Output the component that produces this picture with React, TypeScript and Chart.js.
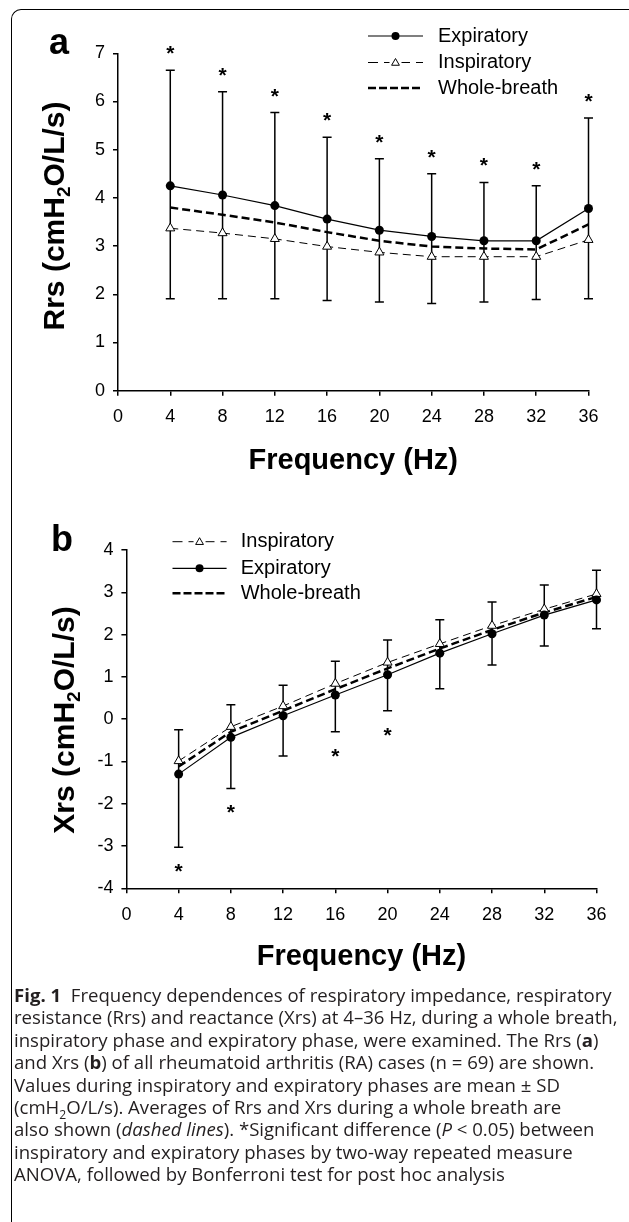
import React, { useEffect, useRef } from "react";
import { Chart, registerables } from "chart.js";

Chart.register(...registerables);

// ---------------- data ----------------
const frequencies = [4, 8, 12, 16, 20, 24, 28, 32, 36];
const xTickValues = [0, 4, 8, 12, 16, 20, 24, 28, 32, 36];

// Panel a – Rrs (cmH2O/L/s)
const rrsTicks = [0, 1, 2, 3, 4, 5, 6, 7];
const rrsExpMean = [4.25, 4.06, 3.84, 3.56, 3.33, 3.2, 3.11, 3.11, 3.78];
const rrsExpSD = [2.4, 2.14, 1.93, 1.7, 1.48, 1.3, 1.21, 1.14, 1.88];
const rrsInspMean = [3.37, 3.27, 3.15, 2.99, 2.87, 2.78, 2.78, 2.78, 3.13];
const rrsInspSD = [1.46, 1.36, 1.24, 1.12, 1.03, 0.97, 0.94, 0.89, 1.22];
const rrsWholeMean = [3.8, 3.65, 3.49, 3.29, 3.11, 2.99, 2.95, 2.93, 3.45];
const rrsSignificant = [true, true, true, true, true, true, true, true, true];

// Panel b – Xrs (cmH2O/L/s)
const xrsTicks = [-4, -3, -2, -1, 0, 1, 2, 3, 4];
const xrsExpMean = [-1.3, -0.43, 0.08, 0.57, 1.05, 1.56, 2.02, 2.46, 2.82];
const xrsExpSD = [1.73, 1.21, 0.95, 0.87, 0.85, 0.84, 0.74, 0.73, 0.68];
const xrsInspMean = [-0.99, -0.18, 0.31, 0.84, 1.34, 1.78, 2.21, 2.6, 2.96];
const xrsInspSD = [0.74, 0.52, 0.49, 0.53, 0.53, 0.57, 0.56, 0.57, 0.56];
const xrsWholeMean = [-1.12, -0.3, 0.2, 0.71, 1.2, 1.67, 2.11, 2.52, 2.89];
const xrsSignificant = [true, true, false, true, true, false, false, false, false];

const legendLabelsA = ["Expiratory", "Inspiratory", "Whole-breath"];
const legendLabelsB = ["Inspiratory", "Expiratory", "Whole-breath"];
const xAxisTitle = "Frequency (Hz)";

// ---------------- styling ----------------
const FONT = '"Liberation Sans", Arial, Helvetica, sans-serif';
const W = 629;

type Kind = "exp" | "insp" | "whole";

interface PanelSpec {
  letter: string;
  canvasTop: number;
  canvasH: number;
  plotLeft: number;
  plotRight: number;
  plotTop: number;
  plotBottom: number;
  yMin: number;
  yMax: number;
  yTicks: number[];
  expMean: number[];
  expSD: number[];
  inspMean: number[];
  inspSD: number[];
  wholeMean: number[];
  significant: boolean[];
  asteriskSide: "above" | "below";
  yTitle: [string, string, string];
  yTitleBaselineX: number;
  yTitleCenterY: number;
  xTitleBaseline: number;
  letterX: number;
  letterBaseline: number;
  legendLabels: string[];
  legendKinds: Kind[];
  legendYs: number[];
  legendX1: number;
  legendX2: number;
  legendTextX: number;
}

const panelA: PanelSpec = {
  letter: "a",
  canvasTop: 0,
  canvasH: 490,
  plotLeft: 118,
  plotRight: 588.5,
  plotTop: 53.3,
  plotBottom: 390.7,
  yMin: 0,
  yMax: 7,
  yTicks: rrsTicks,
  expMean: rrsExpMean,
  expSD: rrsExpSD,
  inspMean: rrsInspMean,
  inspSD: rrsInspSD,
  wholeMean: rrsWholeMean,
  significant: rrsSignificant,
  asteriskSide: "above",
  yTitle: ["Rrs (cmH", "2", "O/L/s)"],
  yTitleBaselineX: 64,
  yTitleCenterY: 216,
  xTitleBaseline: 469,
  letterX: 49,
  letterBaseline: 54,
  legendLabels: legendLabelsA,
  legendKinds: ["exp", "insp", "whole"],
  legendYs: [36, 62.5, 88],
  legendX1: 368,
  legendX2: 423,
  legendTextX: 438,
};

const panelB: PanelSpec = {
  letter: "b",
  canvasTop: 490,
  canvasH: 500,
  plotLeft: 126.4,
  plotRight: 596.5,
  plotTop: 60,
  plotBottom: 398.3,
  yMin: -4,
  yMax: 4,
  yTicks: xrsTicks,
  expMean: xrsExpMean,
  expSD: xrsExpSD,
  inspMean: xrsInspMean,
  inspSD: xrsInspSD,
  wholeMean: xrsWholeMean,
  significant: xrsSignificant,
  asteriskSide: "below",
  yTitle: ["Xrs (cmH", "2", "O/L/s)"],
  yTitleBaselineX: 74,
  yTitleCenterY: 230,
  xTitleBaseline: 474.5,
  letterX: 51,
  letterBaseline: 61,
  legendLabels: legendLabelsB,
  legendKinds: ["insp", "exp", "whole"],
  legendYs: [51.7, 78.3, 103.3],
  legendX1: 172.5,
  legendX2: 226.6,
  legendTextX: 240.7,
};

function errorRange(p: PanelSpec, i: number) {
  const expHigher = p.expMean[i] >= p.inspMean[i];
  const top = expHigher ? p.expMean[i] + p.expSD[i] : p.inspMean[i] + p.inspSD[i];
  const bottom = expHigher ? p.inspMean[i] - p.inspSD[i] : p.expMean[i] - p.expSD[i];
  return { top, bottom };
}

function drawTriangle(ctx: CanvasRenderingContext2D, x: number, y: number, r: number) {
  ctx.beginPath();
  for (let k = 0; k < 3; k++) {
    const a = (k * 2 * Math.PI) / 3;
    const px = x + Math.sin(a) * r;
    const py = y - Math.cos(a) * r;
    if (k === 0) ctx.moveTo(px, py);
    else ctx.lineTo(px, py);
  }
  ctx.closePath();
  ctx.fillStyle = "#fff";
  ctx.fill();
  ctx.strokeStyle = "#000";
  ctx.lineWidth = 1;
  ctx.stroke();
}

function makeDecor(p: PanelSpec) {
  return {
    id: "decor_" + p.letter,
    beforeDatasetsDraw(chart: any) {
      const ctx: CanvasRenderingContext2D = chart.ctx;
      const xs = chart.scales.x;
      const ys = chart.scales.y;
      ctx.save();
      ctx.strokeStyle = "#000";
      ctx.lineWidth = 1.5;
      frequencies.forEach((f, i) => {
        const { top, bottom } = errorRange(p, i);
        const x = xs.getPixelForValue(f);
        const yt = ys.getPixelForValue(top);
        const yb = ys.getPixelForValue(bottom);
        ctx.beginPath();
        ctx.moveTo(x, yt);
        ctx.lineTo(x, yb);
        ctx.moveTo(x - 4.5, yt);
        ctx.lineTo(x + 4.5, yt);
        ctx.moveTo(x - 4.5, yb);
        ctx.lineTo(x + 4.5, yb);
        ctx.stroke();
      });
      ctx.restore();
    },
    afterDraw(chart: any) {
      const ctx: CanvasRenderingContext2D = chart.ctx;
      const xs = chart.scales.x;
      const ys = chart.scales.y;
      ctx.save();
      ctx.fillStyle = "#000";

      // significance asterisks
      const aSize = 21;
      ctx.font = `bold ${aSize}px ${FONT}`;
      ctx.textAlign = "center";
      ctx.textBaseline = "alphabetic";
      frequencies.forEach((f, i) => {
        if (!p.significant[i]) return;
        const { top, bottom } = errorRange(p, i);
        const x = xs.getPixelForValue(f);
        const cy =
          p.asteriskSide === "above"
            ? ys.getPixelForValue(top) - 22
            : ys.getPixelForValue(bottom) + 19;
        ctx.fillText("*", x, cy + aSize * 0.57);
      });

      // panel letter
      ctx.font = `bold 36px ${FONT}`;
      ctx.textAlign = "left";
      ctx.fillText(p.letter, p.letterX, p.letterBaseline);

      // x axis title
      ctx.font = `bold 29px ${FONT}`;
      ctx.textAlign = "center";
      ctx.fillText(xAxisTitle, (p.plotLeft + p.plotRight) / 2, p.xTitleBaseline);

      // y axis title with subscript
      const size = 30;
      const mainFont = `bold ${size}px ${FONT}`;
      const subFont = `bold ${Math.round(size * 0.62)}px ${FONT}`;
      const widths = p.yTitle.map((t, k) => {
        ctx.font = k === 1 ? subFont : mainFont;
        return ctx.measureText(t).width;
      });
      const total = widths.reduce((a, b) => a + b, 0);
      ctx.translate(p.yTitleBaselineX, p.yTitleCenterY);
      ctx.rotate(-Math.PI / 2);
      ctx.textAlign = "left";
      let cx = -total / 2;
      p.yTitle.forEach((t, k) => {
        ctx.font = k === 1 ? subFont : mainFont;
        ctx.fillText(t, cx, k === 1 ? size * 0.2 : 0);
        cx += widths[k];
      });
      ctx.setTransform(1, 0, 0, 1, 0, 0);

      // legend
      p.legendLabels.forEach((label, k) => {
        const kind = p.legendKinds[k];
        const y = p.legendYs[k];
        ctx.save();
        ctx.strokeStyle = "#000";
        if (kind === "exp") {
          ctx.lineWidth = 1.2;
          ctx.setLineDash([]);
        } else if (kind === "insp") {
          ctx.lineWidth = 1;
          ctx.setLineDash([10, 6]);
        } else {
          ctx.lineWidth = 2.5;
          ctx.setLineDash([8, 3]);
        }
        ctx.beginPath();
        ctx.moveTo(p.legendX1, y);
        ctx.lineTo(p.legendX2, y);
        ctx.stroke();
        ctx.setLineDash([]);
        const mx = (p.legendX1 + p.legendX2) / 2;
        if (kind === "exp") {
          ctx.beginPath();
          ctx.arc(mx, y, 4, 0, Math.PI * 2);
          ctx.fillStyle = "#000";
          ctx.fill();
        } else if (kind === "insp") {
          ctx.fillStyle = "#fff";
          ctx.fillRect(mx - 6, y - 2, 12, 4);
          drawTriangle(ctx, mx, y + 0.5, 4.5);
        }
        ctx.restore();
        ctx.fillStyle = "#000";
        ctx.font = `20px ${FONT}`;
        ctx.textAlign = "left";
        ctx.textBaseline = "middle";
        ctx.fillText(label, p.legendTextX, y);
        ctx.textBaseline = "alphabetic";
      });

      ctx.restore();
    },
  };
}

function makeChart(canvas: HTMLCanvasElement, p: PanelSpec) {
  const pts = (arr: number[]) => frequencies.map((f, i) => ({ x: f, y: arr[i] }));
  const axisGrid = {
    display: true,
    drawOnChartArea: false,
    drawTicks: true,
    tickLength: 5,
    color: "#000",
    lineWidth: 1.5,
  };
  const axisBorder = { display: true, color: "#000", width: 1.5 };
  return new Chart(canvas, {
    type: "line",
    data: {
      datasets: [
        {
          label: "Expiratory",
          data: pts(p.expMean),
          borderColor: "#000",
          borderWidth: 1.2,
          pointStyle: "circle",
          pointRadius: 4.5,
          pointBackgroundColor: "#000",
          pointBorderColor: "#000",
          pointBorderWidth: 0,
          tension: 0,
          clip: false,
          order: 1,
        },
        {
          label: "Inspiratory",
          data: pts(p.inspMean),
          borderColor: "#000",
          borderWidth: 1,
          borderDash: [8, 5],
          pointStyle: "triangle",
          pointRadius: 5.2,
          pointBackgroundColor: "#fff",
          pointBorderColor: "#000",
          pointBorderWidth: 1,
          tension: 0,
          clip: false,
          order: 2,
        },
        {
          label: "Whole-breath",
          data: pts(p.wholeMean),
          borderColor: "#000",
          borderWidth: 2.5,
          borderDash: [8, 4],
          pointRadius: 0,
          tension: 0,
          clip: false,
          order: 3,
        },
      ],
    } as any,
    options: {
      animation: false,
      responsive: false,
      maintainAspectRatio: false,
      events: [],
      layout: {
        padding: { left: 0, top: p.plotTop, right: W - p.plotRight, bottom: 0 },
      },
      plugins: {
        legend: { display: false },
        tooltip: { enabled: false },
        title: { display: false },
      },
      scales: {
        x: {
          type: "linear",
          min: 0,
          max: 36,
          afterBuildTicks: (s: any) => {
            s.ticks = xTickValues.map((v) => ({ value: v }));
          },
          ticks: {
            color: "#000",
            font: { family: FONT, size: 18 },
            padding: 11,
            maxRotation: 0,
            autoSkip: false,
            callback: (v: any) => String(v),
          },
          grid: axisGrid,
          border: axisBorder,
          afterFit: (s: any) => {
            s.height = p.canvasH - p.plotBottom;
          },
        },
        y: {
          type: "linear",
          min: p.yMin,
          max: p.yMax,
          afterBuildTicks: (s: any) => {
            s.ticks = p.yTicks.map((v) => ({ value: v }));
          },
          ticks: {
            color: "#000",
            font: { family: FONT, size: 18 },
            padding: 8,
            autoSkip: false,
            callback: (v: any) => String(v),
          },
          grid: axisGrid,
          border: axisBorder,
          afterFit: (s: any) => {
            s.width = p.plotLeft;
          },
        },
      },
    } as any,
    plugins: [makeDecor(p)],
  });
}

const captionStyle: React.CSSProperties = {
  position: "absolute",
  left: 14,
  top: 984,
  fontFamily: '"Open Sans", "Noto Sans", sans-serif',
  fontSize: 18.6,
  lineHeight: "22.4px",
  color: "#231f20",
};

const lineStyle: React.CSSProperties = { whiteSpace: "nowrap" };

export default function App() {
  const refA = useRef<HTMLCanvasElement>(null);
  const refB = useRef<HTMLCanvasElement>(null);

  useEffect(() => {
    const charts: Chart[] = [];
    if (refA.current) charts.push(makeChart(refA.current, panelA));
    if (refB.current) charts.push(makeChart(refB.current, panelB));
    return () => charts.forEach((c) => c.destroy());
  }, []);

  return (
    <div
      style={{
        position: "absolute",
        left: 0,
        top: 0,
        width: W,
        height: 1222,
        overflow: "hidden",
        background: "#fff",
      }}
    >
      <div
        style={{
          position: "absolute",
          left: 11,
          top: 9,
          width: 700,
          height: 1300,
          borderLeft: "1px solid #000",
          borderTop: "1px solid #000",
          borderTopLeftRadius: 10,
        }}
      />
      <canvas
        ref={refA}
        width={W}
        height={panelA.canvasH}
        style={{ position: "absolute", left: 0, top: panelA.canvasTop, width: W, height: panelA.canvasH }}
      />
      <canvas
        ref={refB}
        width={W}
        height={panelB.canvasH}
        style={{ position: "absolute", left: 0, top: panelB.canvasTop, width: W, height: panelB.canvasH }}
      />
      <div style={captionStyle}>
        <div style={lineStyle}>
          <b>Fig. 1</b>&nbsp; Frequency dependences of respiratory impedance, respiratory
        </div>
        <div style={lineStyle}>
          resistance (Rrs) and reactance (Xrs) at 4–36 Hz, during a whole breath,
        </div>
        <div style={lineStyle}>
          inspiratory phase and expiratory phase, were examined. The Rrs (<b>a</b>)
        </div>
        <div style={lineStyle}>
          and Xrs (<b>b</b>) of all rheumatoid arthritis (RA) cases (n = 69) are shown.
        </div>
        <div style={lineStyle}>
          Values during inspiratory and expiratory phases are mean ± SD
        </div>
        <div style={lineStyle}>
          (cmH<sub style={{ fontSize: "0.65em", lineHeight: 0 }}>2</sub>O/L/s). Averages of Rrs and Xrs during a whole breath are
        </div>
        <div style={lineStyle}>
          also shown (<i>dashed lines</i>). *Significant difference (<i>P</i> &lt; 0.05) between
        </div>
        <div style={lineStyle}>
          inspiratory and expiratory phases by two-way repeated measure
        </div>
        <div style={lineStyle}>
          ANOVA, followed by Bonferroni test for post hoc analysis
        </div>
      </div>
    </div>
  );
}
